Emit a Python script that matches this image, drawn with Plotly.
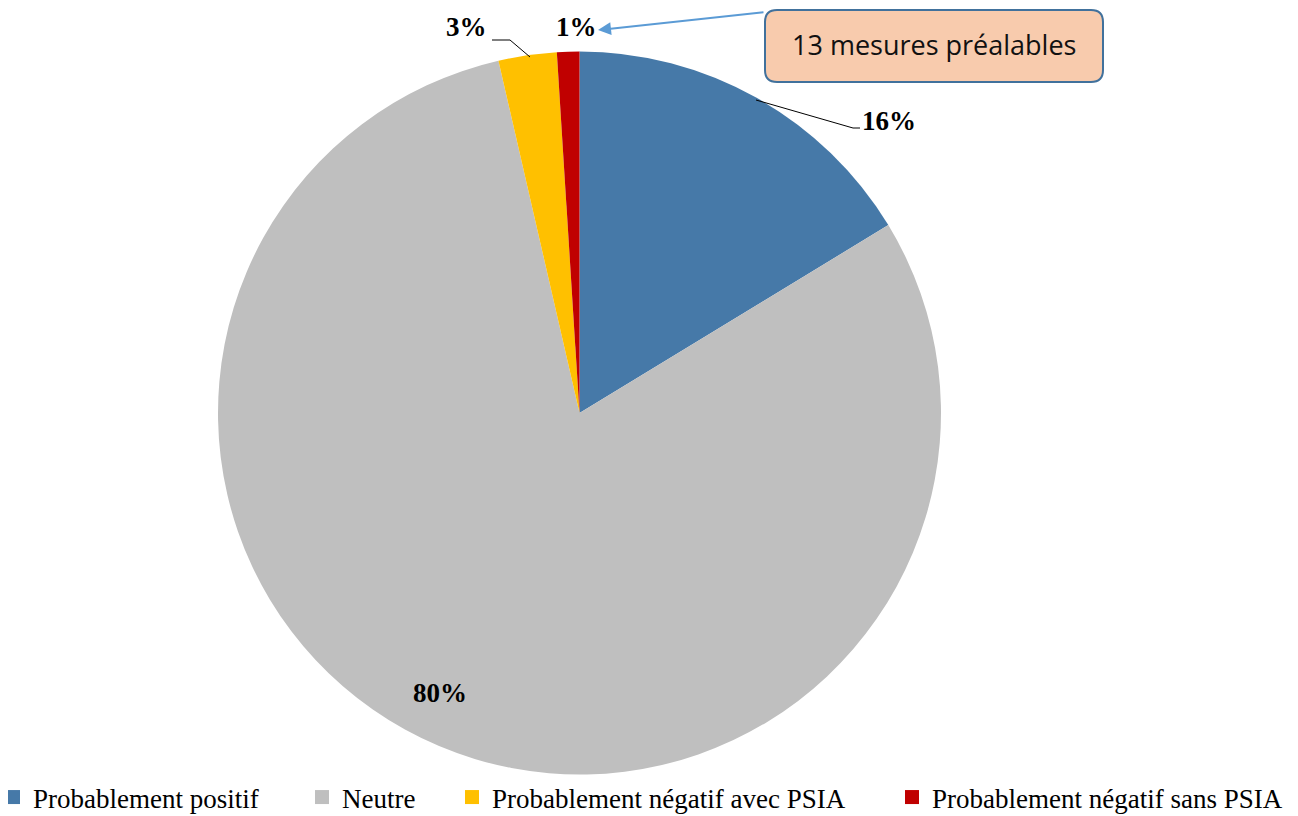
import plotly.graph_objects as go

W, H = 1298, 816
OFF = 8  # page body margin offset

categories = ["Probablement positif", "Neutre", "Probablement négatif avec PSIA", "Probablement négatif sans PSIA"]
values = [16.3, 80.1, 2.6, 1.0]
colors = ["#4679A8", "#BFBFBF", "#FFC000", "#C00000"]
pct_labels = ["16%", "80%", "3%", "1%"]
callout_text = "13 mesures préalables"

def px(x):
    return (x - OFF) / W

def py(y):
    return 1 - (y - OFF) / H

fig = go.Figure()
fig.add_trace(go.Pie(
    labels=categories, values=values, sort=False, direction="clockwise", rotation=0,
    marker=dict(colors=colors, line=dict(width=0)),
    textinfo="none", hoverinfo="label+percent", showlegend=False,
    domain=dict(x=[px(218), px(941)], y=[py(775), py(51)]),
))

# legend entries (one legend per category, positioned like the reference)
legend_text_x = [33, 342, 492, 932]
legend_names = ["legend", "legend2", "legend3", "legend4"]
for name, col, lg in zip(categories, colors, legend_names):
    fig.add_trace(go.Scatter(x=[None], y=[None], mode="markers", name=name, legend=lg,
                             marker=dict(symbol="square", size=14, color=col), hoverinfo="skip"))

label_pos = [(889, 121), (440, 693), (466, 27), (576, 27)]
annotations = []
for t, (x, y) in zip(pct_labels, label_pos):
    annotations.append(dict(x=px(x), y=py(y), xref="paper", yref="paper", text=f"<b>{t}</b>", showarrow=False,
                            font=dict(family="Liberation Serif", size=27, color="black"),
                            xanchor="center", yanchor="middle"))

# arrow from callout to 1% label
annotations.append(dict(x=px(598), y=py(30), xref="paper", yref="paper", text="", showarrow=True,
                        ax=765 - 598, ay=12 - 30, arrowhead=2, arrowsize=1.3, arrowwidth=2,
                        arrowcolor="#5B9BD5"))
annotations.append(dict(x=px(934), y=py(45), xref="paper", yref="paper", text=callout_text, showarrow=False,
                        font=dict(family="Open Sans", size=27, color="#111111"), xanchor="center", yanchor="middle"))

def rounded_rect(x0, y0, x1, y1, r):
    def P(x, y):
        return f"{px(x)},{py(y)}"
    return (f"M {P(x0+r, y0)} L {P(x1-r, y0)} Q {P(x1, y0)} {P(x1, y0+r)} "
            f"L {P(x1, y1-r)} Q {P(x1, y1)} {P(x1-r, y1)} L {P(x0+r, y1)} "
            f"Q {P(x0, y1)} {P(x0, y1-r)} L {P(x0, y0+r)} Q {P(x0, y0)} {P(x0+r, y0)} Z")

shapes = [
    dict(type="path", xref="paper", yref="paper", path=rounded_rect(765, 10, 1103, 82, 12),
         fillcolor="#F8CBAD", line=dict(color="#41719C", width=2)),
    dict(type="path", xref="paper", yref="paper",
         path=f"M {px(756)},{py(100)} L {px(853)},{py(128)} L {px(860)},{py(128)}",
         line=dict(color="black", width=1)),
    dict(type="path", xref="paper", yref="paper",
         path=f"M {px(492)},{py(40)} L {px(510)},{py(40)} L {px(530)},{py(57)}",
         line=dict(color="black", width=1)),
]

legend_layout = {}
for lg, tx in zip(legend_names, legend_text_x):
    legend_layout[lg] = dict(orientation="h", x=px(tx - 40), y=py(822), xanchor="left", yanchor="bottom",
                             font=dict(family="Liberation Serif", size=27, color="black"),
                             bgcolor="rgba(0,0,0,0)", itemwidth=30)

fig.update_layout(
    width=W, height=H, margin=dict(l=0, r=0, t=0, b=0, autoexpand=False),
    paper_bgcolor="white", plot_bgcolor="white",
    showlegend=True,
    xaxis=dict(visible=False), yaxis=dict(visible=False),
    annotations=annotations, shapes=shapes,
    **legend_layout,
)

fig.write_html("out.html")
